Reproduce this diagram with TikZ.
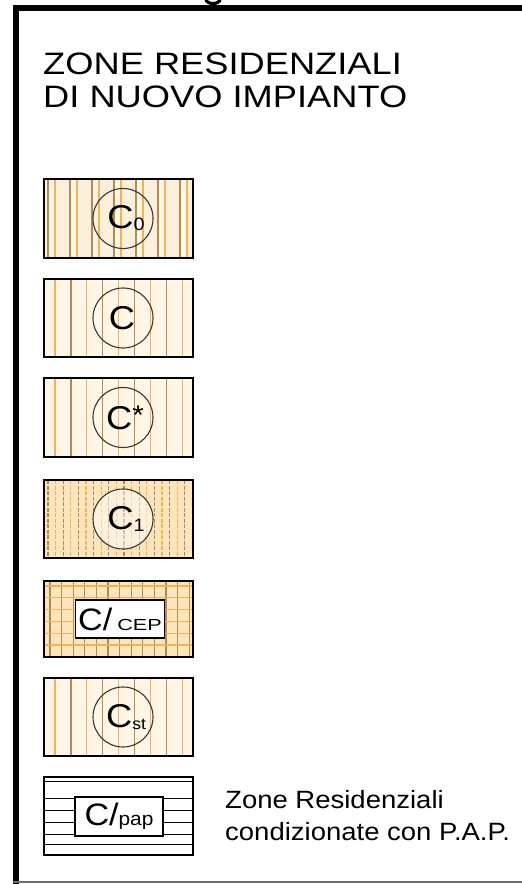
\documentclass[tikz,border=0pt]{standalone}
\usepackage{fontspec}
\setmainfont{Liberation Sans}
\definecolor{tanl}{RGB}{178,138,88}
\definecolor{orl}{RGB}{238,180,86}
\definecolor{creamf}{RGB}{252,228,188}
\definecolor{paleb}{RGB}{255,246,230}
\definecolor{circ}{RGB}{55,55,55}
\definecolor{botl}{RGB}{110,110,110}
\tikzset{
  boxline/.style={line width=1.4pt,black},
  ring/.style={circ,line width=1.1pt},
  hatchA/.style={tanl,line width=1.3pt},
  hatchB/.style={orl,line width=1.3pt},
  lab/.style={inner sep=0pt,font=\fontsize{33}{33}\selectfont},
  tag/.style={draw=black,line width=1.3pt,fill=white,inner sep=0pt,minimum width=89pt,minimum height=38pt},
  titletext/.style={inner sep=0pt,anchor=base west},
}
\newcommand\wideC[2][1.1]{\scalebox{#1}[1]{#2}}
\begin{document}
\begin{tikzpicture}[x=1pt,y=-1pt]
\useasboundingbox (0,0) rectangle (522,884);
% frame
\coordinate (ga) at (206,-1);
\coordinate (gb) at (220,-1);
\draw[line width=3.2pt] (ga) .. controls (206,5) and (220,5) .. (gb);
\coordinate (ftl) at (16,8);
\coordinate (ftr) at (522,8);
\coordinate (fbl) at (16,884);
\draw[line width=6pt] (fbl) -- (ftl) -- (ftr);
\coordinate (bl) at (13,882);
\coordinate (br) at (522,882);
\draw[botl,line width=1.2pt] (bl) -- (br);
% title
\node[titletext] (t1) at (43,74) {\wideC[1.17]{\fontsize{31}{31}\selectfont ZONE RESIDENZIALI}};
\node[titletext] (t2) at (43,107) {\wideC[1.17]{\fontsize{31}{31}\selectfont DI NUOVO IMPIANTO}};
% ---- box 1 C0
\fill[paleb] (44,179) rectangle (193,258);
\begin{scope}
\clip (44,179) rectangle (193,258);
\foreach \k in {0,...,6}{
  \fill[orl!20] ({55+22*\k},179) rectangle ++(15,79);
  \draw[hatchA] ({48+22*\k},179) -- ++(0,79);
  \draw[hatchB] ({55+22*\k},179) -- ++(0,79);}
\end{scope}
\draw[boxline] (44,179) rectangle (193,258);
\draw[ring] (123,218.5) circle[radius=30pt];
\node[lab] (c0) at (126,218.5) {\wideC{C\raisebox{-2pt}{\fontsize{18}{18}\selectfont 0}}};
% ---- box 2 C
\fill[paleb] (44,279) rectangle (193,357);
\begin{scope}
\clip (44,279) rectangle (193,357);
\foreach \k in {0,2,...,8}{\draw[hatchB] ({55+15.9*\k},279) -- ++(0,79);}
\foreach \k in {1,3,...,7}{\draw[hatchA] ({55+15.9*\k},279) -- ++(0,79);}
\end{scope}
\draw[boxline] (44,279) rectangle (193,357);
\draw[ring] (123,318) circle[radius=30pt];
\node[lab] (c) at (122,318) {\wideC{C}};
% ---- box 3 C*
\fill[paleb] (44,378) rectangle (193,457);
\begin{scope}
\clip (44,378) rectangle (193,457);
\foreach \k in {0,2,...,8}{\draw[hatchB] ({55+15.9*\k},378) -- ++(0,79);}
\foreach \k in {1,3,...,7}{\draw[hatchA] ({55+15.9*\k},378) -- ++(0,79);}
\end{scope}
\draw[boxline] (44,378) rectangle (193,457);
\draw[ring] (123,417.5) circle[radius=30pt];
\node[lab] (cs) at (125,417.5) {\wideC{C\raisebox{5pt}{\fontsize{27}{27}\selectfont *}}};
% ---- box 4 C1
\fill[creamf] (44,480) rectangle (193,558);
\begin{scope}
\clip (44,480) rectangle (193,558);
\foreach \k in {0,2,...,18}{\draw[hatchA,dash pattern=on 4pt off 1.5pt] ({48+7.6*\k},480) -- ++(0,79);}
\foreach \k in {1,3,...,19}{\draw[hatchB,dash pattern=on 4pt off 1.5pt] ({48+7.6*\k},480) -- ++(0,79);}
\end{scope}
\draw[boxline] (44,480) rectangle (193,558);
\fill[white,opacity=0.5] (123,519) circle[radius=30pt];
\draw[ring] (123,519) circle[radius=30pt];
\node[lab] (c1) at (126,519) {\wideC{C\raisebox{-2pt}{\fontsize{18}{18}\selectfont 1}}};
% ---- box 5 C/CEP
\fill[creamf] (44,581) rectangle (193,657);
\begin{scope}
\clip (44,581) rectangle (193,657);
\foreach \k in {0,...,12}{\draw[hatchA] ({50+11.6*\k},581) -- ++(0,79);}
\foreach \k in {0,...,6}{\draw[hatchB] (44,{586+11.8*\k}) -- ++(149,0);}
\end{scope}
\draw[boxline] (44,581) rectangle (193,657);
\node[tag] (cep) at (120,619) {\wideC{\fontsize{31}{31}\selectfont C/}\hspace{5pt}\scalebox{1.35}[1]{\fontsize{16}{16}\selectfont CEP}};
% ---- box 6 Cst
\fill[paleb] (44,678) rectangle (193,756);
\begin{scope}
\clip (44,678) rectangle (193,756);
\foreach \k in {0,2,...,8}{\draw[hatchB] ({55+15.9*\k},678) -- ++(0,79);}
\foreach \k in {1,3,...,7}{\draw[hatchA] ({55+15.9*\k},678) -- ++(0,79);}
\end{scope}
\draw[boxline] (44,678) rectangle (193,756);
\draw[ring] (123,717) circle[radius=30pt];
\node[lab] (cst) at (126,717) {\wideC{C\raisebox{-2pt}{\fontsize{16}{16}\selectfont st}}};
% ---- box 7 C/pap
\begin{scope}
\clip (44,777) rectangle (193,855);
\foreach \y in {781,798,810,822,834,844}{\draw[black,line width=1pt] (44,\y) -- (193,\y);}
\end{scope}
\draw[boxline] (44,777) rectangle (193,855);
\node[tag,minimum width=88pt,minimum height=39pt] (pap) at (119,816.5) {\wideC{\fontsize{31}{31}\selectfont C/\fontsize{19}{19}\selectfont pap}};
% legend text
\node[titletext] (z1) at (225,808) {\wideC[1.1]{\fontsize{25}{25}\selectfont Zone Residenziali}};
\node[titletext] (z2) at (225,840) {\wideC[1.1]{\fontsize{25}{25}\selectfont condizionate con P.A.P.}};
\end{tikzpicture}
\end{document}
